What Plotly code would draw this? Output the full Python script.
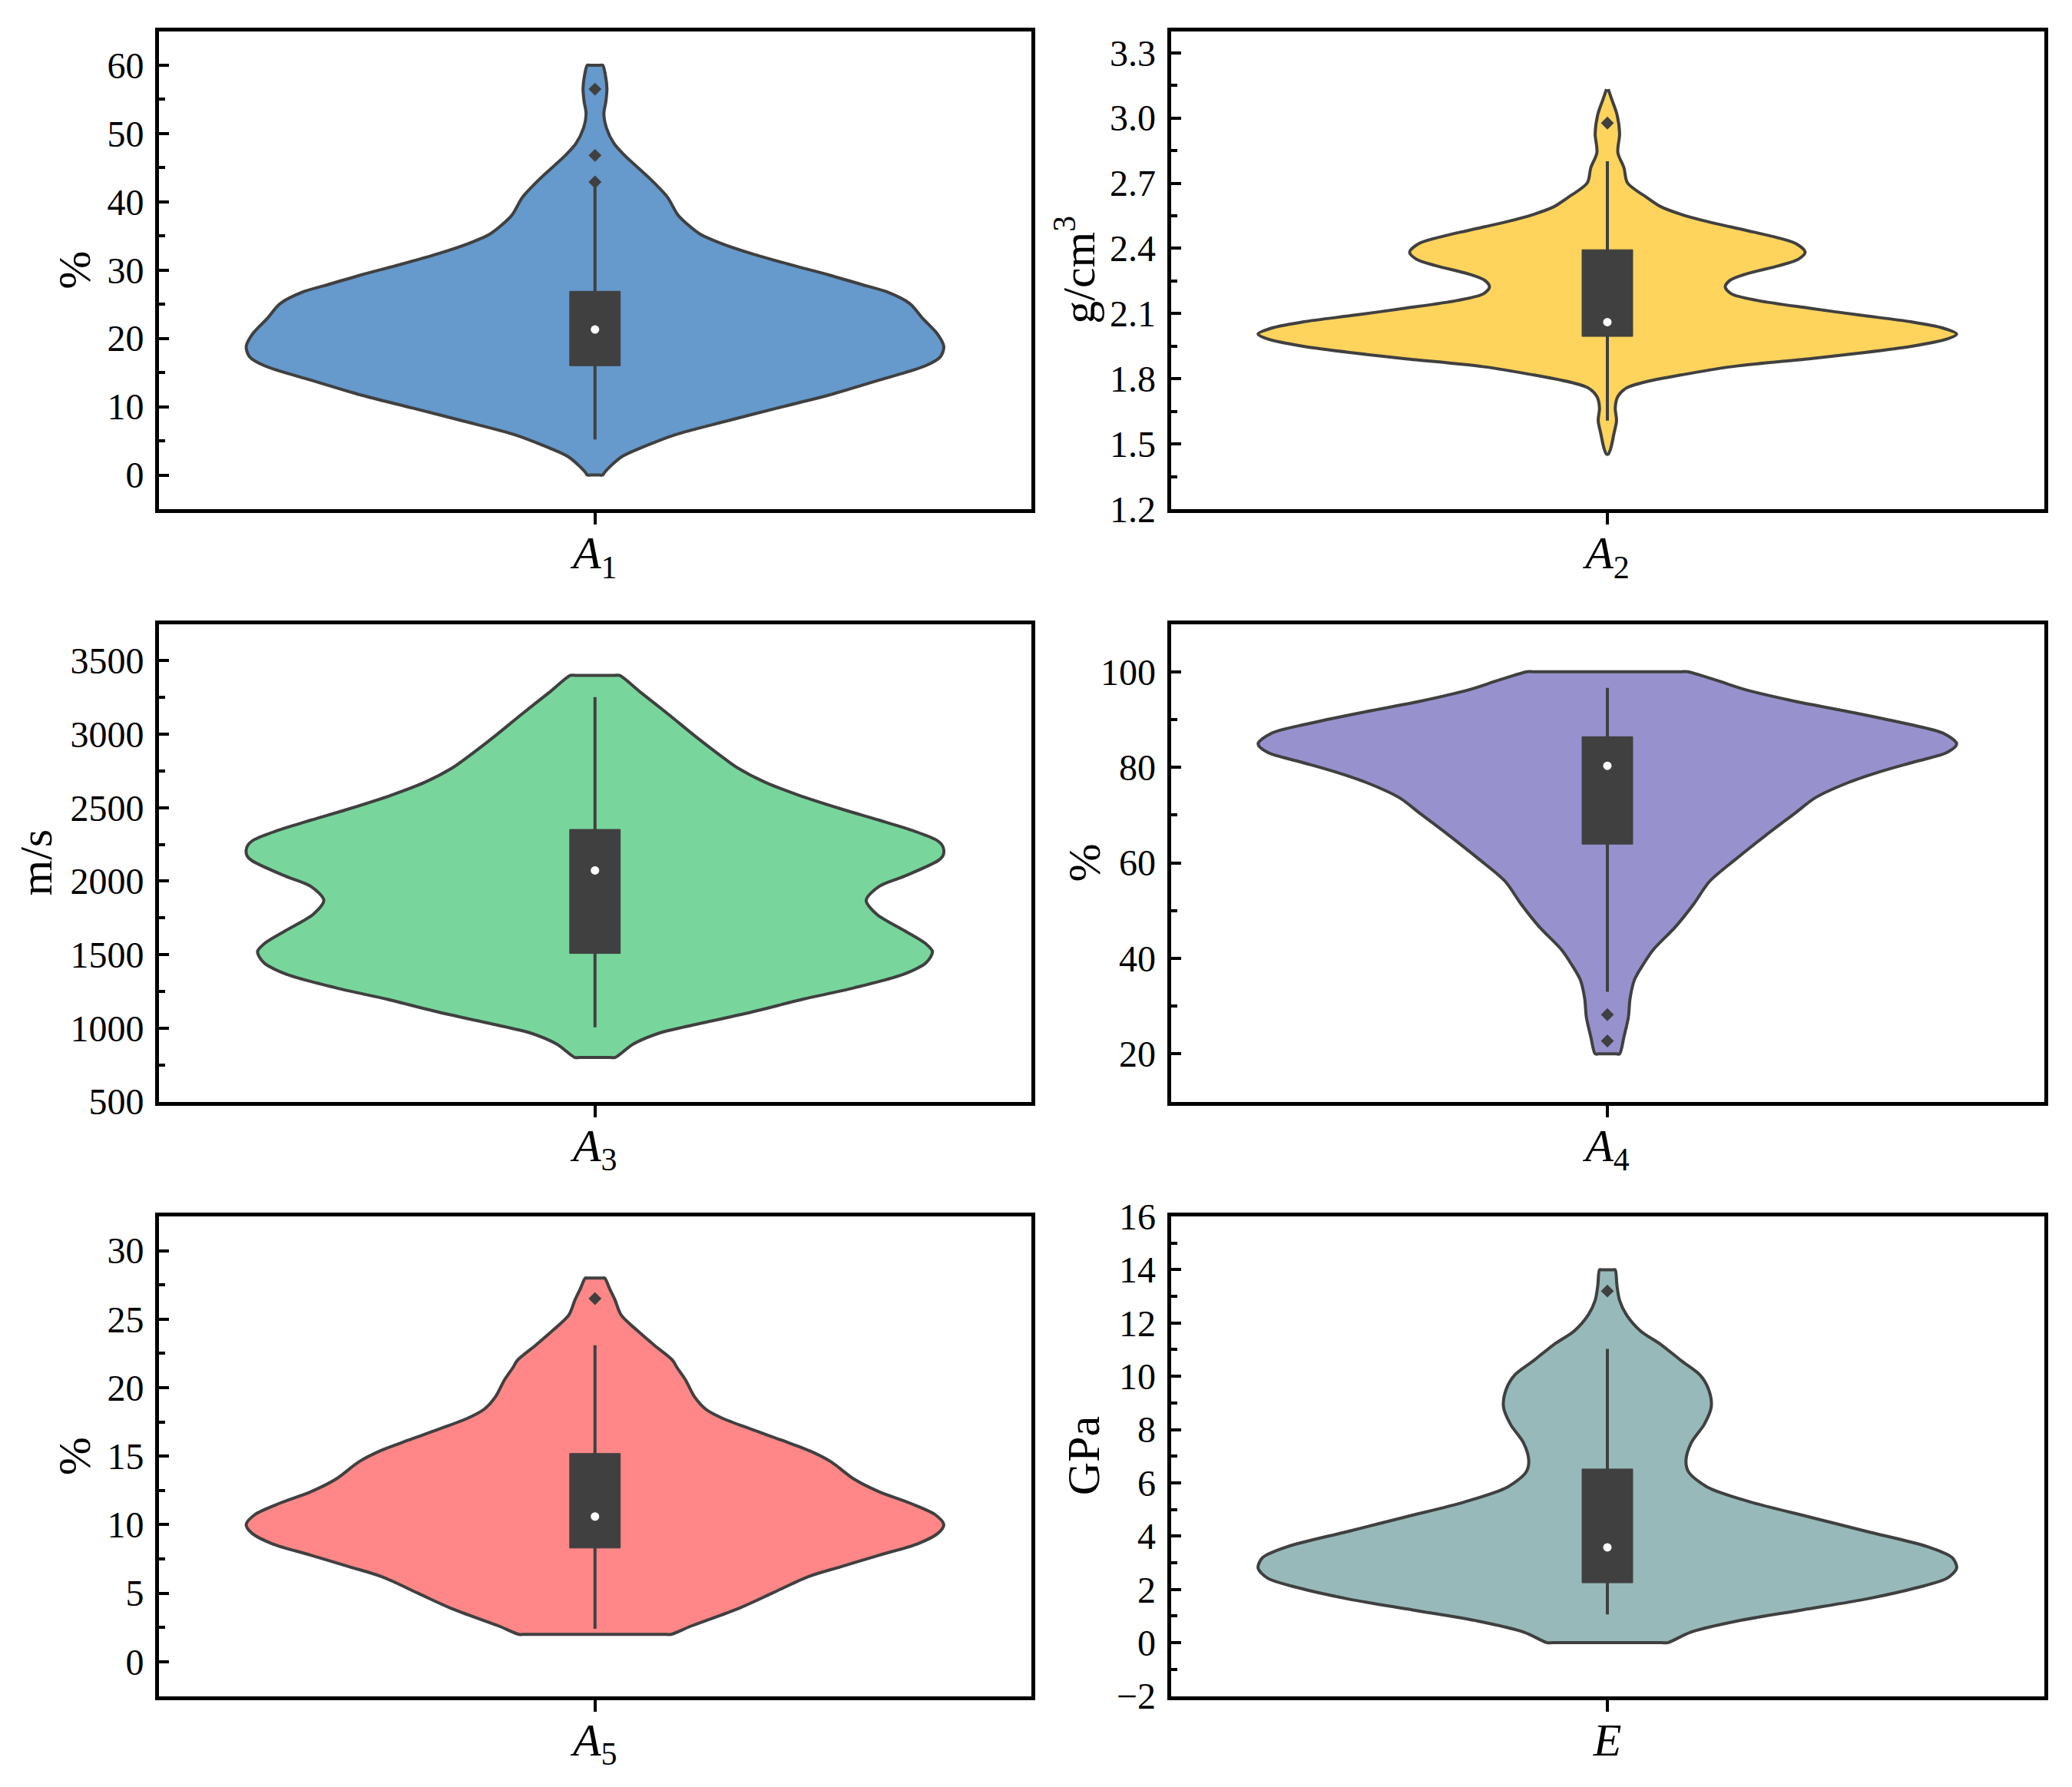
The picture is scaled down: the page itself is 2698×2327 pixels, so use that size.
#!/usr/bin/env python3
"""Violin plots of the rock parameters A1-A5 and E."""

import numpy as np
import plotly.graph_objects as go
from plotly.subplots import make_subplots

# the page body adds 8 px all round
PAGE_MARGIN = 8
WIDTH = 2698 - 2 * PAGE_MARGIN
HEIGHT = 2327 - 2 * PAGE_MARGIN

# outline of each violin: value and half width, top to bottom
a1_values = [60, 60, 60, 58.5, 56.6, 54.7, 52.9, 50.8, 48.5, 46.8, 43.4, 40.7, 38.1, 36.6, 35.2, 33.9, 32.4, 30.8, 29.3, 27.7, 26.8, 25.1, 22.9, 20.6, 18.8, 17.3, 16, 13.9, 11.7, 9.8, 7.9, 5.9, 4.2, 2.7, 1.2, 0.3, 0, 0, 0]
a1_widths = [0, .006, .0088, .012, .0137, .0125, .0102, .0132, .022, .034, .063, .083, .095, .107, .1215, .145, .18, .224, .268, .311, .335, .361, .376, .393, .4, .396, .379, .326, .268, .209, .151, .092, .057, .031, .017, .0105, .009, .005, 0]
a2_values = [3.133, 3.086, 3.016, 2.928, 2.841, 2.771, 2.702, 2.632, 2.591, 2.556, 2.524, 2.484, 2.448, 2.422, 2.383, 2.351, 2.32, 2.281, 2.252, 2.222, 2.191, 2.16, 2.125, 2.093, 2.062, 2.035, 2.006, 1.982, 1.949, 1.918, 1.892, 1.856, 1.818, 1.783, 1.758, 1.719, 1.666, 1.608, 1.549, 1.479, 1.453]
a2_widths = [.001, .005, .011, .014, .012, .019, .023, .046, .0616, .085, .114, .158, .196, .216, .2265, .219, .196, .158, .14, .135, .142, .1725, .231, .289, .348, .383, .4, .3885, .348, .289, .231, .143, .085, .041, .022, .012, .009, .0105, .0076, .0038, .001]
a3_values = [3400, 3400, 3400, 3291, 3136, 2981, 2827, 2769, 2674, 2587, 2492, 2415, 2345, 2285, 2250, 2213, 2173, 2138, 2034, 1965, 1870, 1775, 1663, 1576, 1521, 1447, 1369, 1274, 1196, 1110, 1006, 969, 892, 800, 800, 800]
a3_widths = [0, .022, .028, .051, .084, .116, .15, .164, .1946, .2326, .282, .326, .364, .39, .3975, .4, .399, .393, .355, .326, .311, .323, .355, .379, .387, .38, .355, .297, .238, .18, .101, .075, .044, .023, .018, 0]
a4_values = [100, 100, 100, 98.2, 96.2, 93.8, 91.4, 89.1, 87.1, 84.9, 83.1, 81.1, 79.1, 76.8, 73.6, 70.4, 65.7, 60.9, 56.1, 51.4, 46.6, 41.9, 38.7, 35.5, 31.6, 27.6, 23.6, 20, 20, 20]
a4_widths = [0, .085, .092, .125, .159, .215, .283, .343, .385, .4, .389, .351, .313, .276, .238, .215, .181, .148, .117, .099, .078, .053, .041, .031, .026, .024, .019, .014, .01, 0]
a5_values = [28, 28, 28, 27.2, 26.4, 25.3, 24.2, 23.1, 22, 21.5, 20.55, 19.35, 18.43, 17.8, 16.95, 16.15, 15.37, 14.6, 13.33, 12.4, 11.58, 10.74, 10, 9.36, 8.61, 7.78, 6.94, 6.2, 5, 3.9, 2.6, 2, 2, 2]
a5_widths = [0, .008, .011, .017, .023, .03, .048, .068, .089, .0938, .104, .114, .127, .145, .18, .215, .247, .2705, .297, .326, .361, .39, .4, .393, .37, .326, .282, .244, .203, .165, .11, .087, .08, 0]
e_values = [14, 14, 14, 13.4, 12.85, 12.3, 11.7, 11.2, 10.6, 10.05, 9.5, 8.86, 8.2, 7.5, 6.83, 6.41, 5.85, 5.29, 4.73, 4.17, 3.61, 3.19, 2.8, 2.42, 2.07, 1.65, 1.23, .81, .39, 0, 0, 0]
e_widths = [0, .007, .009, .011, .014, .022, .038, .061, .084, .106, .116, .119, .111, .096, .09, .093, .114, .163, .23, .298, .366, .395, .4, .389, .355, .298, .223, .148, .095, .069, .062, 0]

# lower whisker, q1, median, q3, upper whisker
a1_box = [5.2, 16.0, 21.3, 26.9, 42.9]
a2_box = [1.607, 1.995, 2.061, 2.394, 2.801]
a3_box = [1005, 1508, 2073, 2352, 3252]
a4_box = [33, 63.9, 80.3, 86.4, 96.6]
a5_box = [2.4, 8.3, 10.6, 15.2, 23.1]
e_box = [1.06, 2.25, 3.58, 6.52, 11.03]

a1_outliers = [56.5, 46.8, 42.9]
a2_outliers = [2.977]
a3_outliers = []
a4_outliers = [28.2, 22.7]
a5_outliers = [26.5]
e_outliers = [13.2]

labels = ["<i>A</i><sub>1</sub>", "<i>A</i><sub>2</sub>", "<i>A</i><sub>3</sub>", "<i>A</i><sub>4</sub>", "<i>A</i><sub>5</sub>", "<i>E</i>"]
units = ["%", "g/cm<sup>3</sup>", "m/s", "%", "%", "GPa"]
colors = ["#6699CC", "#FFD45C", "#78D69C", "#9792CE", "#FF8787", "#97B9B9"]
y_ranges = [[-5, 65], [1.2, 3.4], [500, 3750], [10, 110], [-2.5, 32.5], [-2, 16]]
y_ticks0 = [0, 1.2, 500, 20, 0, -2]
y_dticks = [10, 0.3, 500, 20, 5, 2]
y_formats = ["d", ".1f", "d", "d", "d", "d"]

violins = [
    (a1_values, a1_widths, a1_box, a1_outliers),
    (a2_values, a2_widths, a2_box, a2_outliers),
    (a3_values, a3_widths, a3_box, a3_outliers),
    (a4_values, a4_widths, a4_box, a4_outliers),
    (a5_values, a5_widths, a5_box, a5_outliers),
    (e_values, e_widths, e_box, e_outliers),
]

# panel frames (line centres) and unit label centres in pixels of the final picture
COL_X = [(204.5, 1345), (1522, 2664)]
ROW_Y = [(38, 665.5), (810, 1437), (1581.5, 2211)]
UNIT_X = [97, 1401, 46, 1411, 97, 1411]
FRAME_WIDTH = 5

BOX_HALF_WIDTH = 0.029
DARK = "#404040"
SERIF = "Liberation Serif"

fig = make_subplots(rows=3, cols=2)

for i, (values, widths, box, outliers) in enumerate(violins):
    row = i // 2 + 1
    col = i % 2 + 1
    values = np.array(values)
    widths = np.array(widths)
    outline_x = np.r_[widths, -widths[::-1]]
    outline_y = np.r_[values, values[::-1]]

    fig.add_trace(
        go.Scatter(
            x=outline_x,
            y=outline_y,
            mode="lines",
            fill="toself",
            fillcolor=colors[i],
            line=dict(color=DARK, width=4, shape="spline", smoothing=0.85),
            hoverinfo="skip",
        ),
        row=row,
        col=col,
    )
    fig.add_trace(
        go.Scatter(x=[0, 0], y=[box[0], box[4]], mode="lines", line=dict(color=DARK, width=4)),
        row=row,
        col=col,
    )
    fig.add_trace(
        go.Scatter(
            x=[-BOX_HALF_WIDTH, BOX_HALF_WIDTH, BOX_HALF_WIDTH, -BOX_HALF_WIDTH, -BOX_HALF_WIDTH],
            y=[box[1], box[1], box[3], box[3], box[1]],
            mode="lines",
            fill="toself",
            fillcolor=DARK,
            line=dict(color=DARK, width=1),
        ),
        row=row,
        col=col,
    )
    fig.add_trace(
        go.Scatter(x=[0], y=[box[2]], mode="markers", marker=dict(color="white", size=11, symbol="circle")),
        row=row,
        col=col,
    )
    if outliers:
        fig.add_trace(
            go.Scatter(
                x=[0] * len(outliers),
                y=outliers,
                mode="markers",
                marker=dict(color=DARK, size=13, symbol="diamond"),
            ),
            row=row,
            col=col,
        )

    # plotly draws the axis line just outside the domain
    x0, x1 = COL_X[col - 1]
    y0, y1 = ROW_Y[row - 1]
    inset = FRAME_WIDTH / 2
    fig.update_xaxes(
        domain=[(x0 + inset - PAGE_MARGIN) / WIDTH, (x1 - inset - PAGE_MARGIN) / WIDTH],
        range=[-0.5, 0.5],
        automargin=False,
        tickmode="array",
        tickvals=[0],
        ticktext=[labels[i]],
        ticks="outside",
        ticklen=15,
        tickwidth=4,
        tickcolor="black",
        tickfont=dict(family=SERIF, size=60, color="black"),
        ticklabelstandoff=-15,
        showline=True,
        linewidth=FRAME_WIDTH,
        linecolor="black",
        mirror=True,
        showgrid=False,
        zeroline=False,
        row=row,
        col=col,
    )
    fig.update_yaxes(
        domain=[1 - (y1 - inset - PAGE_MARGIN) / HEIGHT, 1 - (y0 + inset - PAGE_MARGIN) / HEIGHT],
        range=y_ranges[i],
        automargin=False,
        tick0=y_ticks0[i],
        dtick=y_dticks[i],
        tickformat=y_formats[i],
        ticks="inside",
        ticklen=13,
        tickwidth=4,
        tickcolor="black",
        tickfont=dict(family=SERIF, size=48, color="black"),
        ticklabelstandoff=5,
        minor=dict(dtick=y_dticks[i] / 2, tick0=y_ticks0[i], ticks="inside", ticklen=8, tickwidth=4, tickcolor="black", showgrid=False),
        showline=True,
        linewidth=FRAME_WIDTH,
        linecolor="black",
        mirror=True,
        showgrid=False,
        zeroline=False,
        row=row,
        col=col,
    )
    fig.add_annotation(
        text=units[i],
        xref="paper",
        yref="paper",
        x=(UNIT_X[i] - PAGE_MARGIN) / WIDTH,
        y=1 - ((y0 + y1) / 2 - PAGE_MARGIN) / HEIGHT,
        xanchor="center",
        yanchor="middle",
        textangle=-90,
        showarrow=False,
        font=dict(family=SERIF, size=60, color="black"),
    )

fig.update_layout(
    width=WIDTH,
    height=HEIGHT,
    margin=dict(l=0, r=0, t=0, b=0),
    showlegend=False,
    paper_bgcolor="white",
    plot_bgcolor="white",
    font=dict(family=SERIF),
)

fig.write_html("out.html")
